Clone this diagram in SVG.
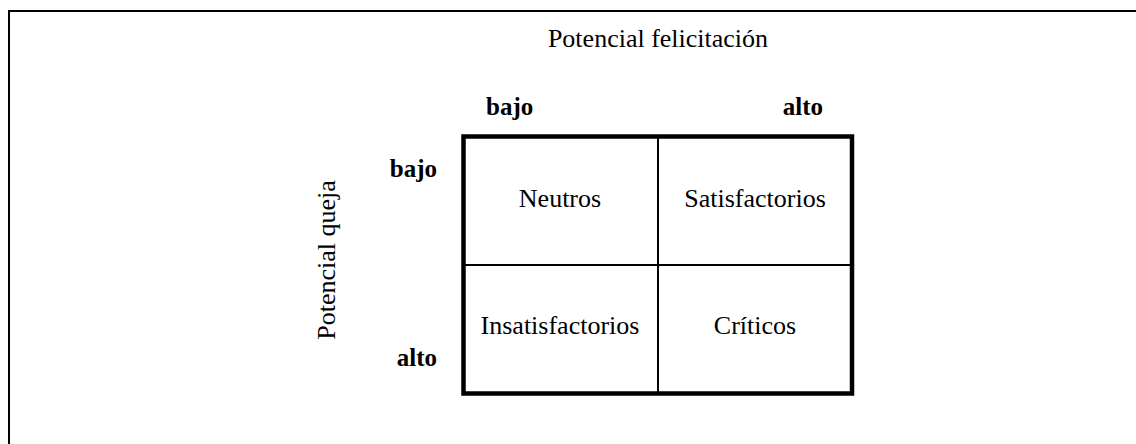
<svg xmlns="http://www.w3.org/2000/svg" width="1136" height="444" viewBox="0 0 1136 444">
<style>
text{font-family:"Liberation Serif","Times New Roman",serif;font-size:26px;fill:#000}
.b{font-weight:bold;font-size:25px}
.m{text-anchor:middle}
.frame{fill:none;stroke:#000;stroke-width:2}
.grid{fill:none;stroke:#000;stroke-width:4.5}
.div{stroke:#000;stroke-width:2}
</style>
<rect width="1136" height="444" fill="#fff"/>
<path class="frame" d="M9 444 V11 H1136"/>
<g id="axis-x">
<text class="m" x="658" y="47">Potencial felicitación</text>
<text class="b" x="486" y="115">bajo</text>
<text class="b" x="823" y="115" text-anchor="end">alto</text>
</g>
<g id="axis-y">
<text class="m" transform="translate(335 260) rotate(-90)">Potencial queja</text>
<text class="b" x="437" y="177" text-anchor="end">bajo</text>
<text class="b" x="437" y="366" text-anchor="end">alto</text>
</g>
<g id="connectors">
<rect class="grid" x="463.5" y="136.5" width="388.5" height="257"/>
<line class="div" x1="658" y1="137" x2="658" y2="393"/>
<line class="div" x1="464" y1="265" x2="852" y2="265"/>
</g>
<g id="neutros"><text class="m" x="560" y="207">Neutros</text></g>
<g id="satisfactorios"><text class="m" x="755" y="207">Satisfactorios</text></g>
<g id="insatisfactorios"><text class="m" x="560" y="334">Insatisfactorios</text></g>
<g id="criticos"><text class="m" x="755" y="334">Críticos</text></g>
</svg>
